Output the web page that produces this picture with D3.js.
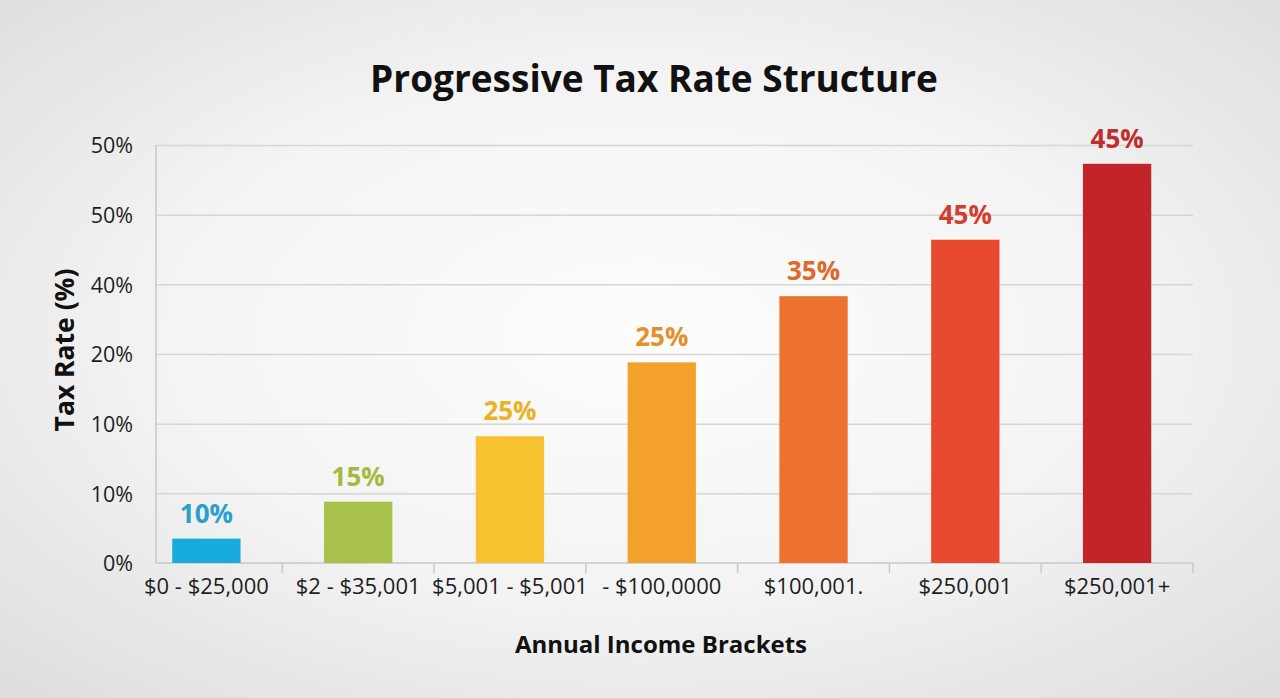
<!DOCTYPE html>
<html>
<head>
<meta charset="utf-8">
<script src="https://cdn.jsdelivr.net/npm/d3@7"></script>
<style>
  html, body { margin: 0; padding: 0; }
  body { width: 1280px; height: 698px; overflow: hidden; font-family: "Open Sans", "Noto Sans", sans-serif; }
  .grid line { stroke: #d6d6d6; stroke-width: 1.5; }
  .grid path { display: none; }
  .axis text { font-family: "Open Sans", "Noto Sans", sans-serif; }
  .y.axis text { font-size: 21.5px; fill: #1e1e1e; }
  .x.axis text { font-size: 22px; fill: #1e1e1e; }
</style>
</head>
<body>
<svg width="1280" height="698"></svg>
<script>
// Data (labels kept as printed)
var brackets = ['$0 - $25,000', '$2 - $35,001', '$5,001 - $5,001', '- $100,0000', '$100,001.', '$250,001', '$250,001+'];
var barValues = [3.5, 8.8, 18.2, 28.8, 38.3, 46.4, 57.3];
var barLabels = ['10%', '15%', '25%', '25%', '35%', '45%', '45%'];
var barColors = ['#17acdc', '#a8c14a', '#f7c130', '#f3a02d', '#ed7230', '#e84a30', '#c3242a'];
var labelColors = ['#2a9fcb', '#a7b93c', '#e9b325', '#e3922a', '#dd6a2c', '#d43e2e', '#bf2d2c'];
var yTicks = [0, 10, 20, 30, 40, 50, 60];
var yTickLabels = ['0%', '10%', '10%', '20%', '40%', '50%', '50%'];

var svg = d3.select('svg');
var svgWidth = +svg.attr('width');
var svgHeight = +svg.attr('height');

// background glow
var defs = svg.append('defs');
var grad = defs.append('radialGradient')
    .attr('id', 'bg')
    .attr('cx', '50%').attr('cy', '48%').attr('r', '70%');
grad.append('stop').attr('offset', '0%').attr('stop-color', '#fdfdfd');
grad.append('stop').attr('offset', '55%').attr('stop-color', '#f3f3f3');
grad.append('stop').attr('offset', '100%').attr('stop-color', '#dedede');
svg.append('rect')
    .attr('width', svgWidth).attr('height', svgHeight)
    .attr('fill', 'url(#bg)');

var plot = {l: 156, r: 1193, t: 145, b: 563};

var xScale = d3.scaleBand()
    .domain(brackets)
    .range([130.5, plot.r])
    .paddingInner(0.55)
    .paddingOuter(0.275);

var yScale = d3.scaleLinear()
    .domain([0, 60])
    .range([plot.b, plot.t]);

// gridlines
svg.append('g')
    .attr('class', 'grid')
    .attr('transform', 'translate(' + [plot.l, 0] + ')')
    .call(d3.axisLeft(yScale).tickValues(yTicks.slice(1))
        .tickSize(-(plot.r - plot.l)).tickFormat(''));

// axis lines
svg.append('line')
    .attr('x1', plot.l).attr('x2', plot.l)
    .attr('y1', plot.t).attr('y2', plot.b)
    .attr('stroke', '#c9c9c9').attr('stroke-width', 1.5);
svg.append('line')
    .attr('x1', plot.l).attr('x2', plot.r)
    .attr('y1', plot.b).attr('y2', plot.b)
    .attr('stroke', '#c9c9c9').attr('stroke-width', 1.5);

// y tick labels
var yAxis = svg.append('g')
    .attr('class', 'y axis')
    .attr('transform', 'translate(' + [plot.l - 20, 0] + ')')
    .call(d3.axisLeft(yScale).tickValues(yTicks).tickSize(0)
        .tickFormat(function(d, i) { return yTickLabels[i]; }));
yAxis.select('.domain').remove();
yAxis.attr('font-family', null);
yAxis.selectAll('text').attr('dy', '0.36em');

// x ticks at bracket boundaries
var step = xScale.step();
var boundaries = brackets.slice(1).map(function(d) {
    return xScale(d) - step * xScale.paddingInner() / 2;
});
boundaries.push(plot.r);
svg.append('g').selectAll('line')
    .data(boundaries)
    .enter().append('line')
    .attr('x1', function(d) { return d; })
    .attr('x2', function(d) { return d; })
    .attr('y1', plot.b).attr('y2', plot.b + 10)
    .attr('stroke', '#c9c9c9').attr('stroke-width', 1.5);

var xAxis = svg.append('g')
    .attr('class', 'x axis')
    .attr('transform', 'translate(' + [0, plot.b] + ')')
    .call(d3.axisBottom(xScale).tickSize(0).tickPadding(15));
xAxis.select('.domain').remove();
xAxis.attr('font-family', null);

// bars
svg.append('g').selectAll('rect')
    .data(barValues)
    .enter().append('rect')
    .attr('x', function(d, i) { return xScale(brackets[i]); })
    .attr('y', function(d) { return yScale(d); })
    .attr('width', xScale.bandwidth())
    .attr('height', function(d) { return yScale(0) - yScale(d); })
    .attr('fill', function(d, i) { return barColors[i]; });

// value labels
svg.append('g').selectAll('text')
    .data(barValues)
    .enter().append('text')
    .attr('x', function(d, i) { return xScale(brackets[i]) + xScale.bandwidth() / 2; })
    .attr('y', function(d) { return yScale(d) - 16; })
    .attr('text-anchor', 'middle')
    .style('font-size', '26px')
    .style('font-weight', 'bold')
    .style('fill', function(d, i) { return labelColors[i]; })
    .text(function(d, i) { return barLabels[i]; });

// titles
svg.append('text')
    .attr('x', 654).attr('y', 92)
    .attr('text-anchor', 'middle')
    .style('font-size', '37px').style('font-weight', 'bold').style('fill', '#111')
    .text('Progressive Tax Rate Structure');

svg.append('text')
    .attr('x', 661).attr('y', 653)
    .attr('text-anchor', 'middle')
    .style('font-size', '24px').style('font-weight', 'bold').style('fill', '#111')
    .text('Annual Income Brackets');

svg.append('text')
    .attr('transform', 'translate(' + [74, 350] + ') rotate(-90)')
    .attr('text-anchor', 'middle')
    .style('font-size', '26.5px').style('font-weight', 'bold').style('fill', '#111')
    .text('Tax Rate (%)');
</script>
</body>
</html>
